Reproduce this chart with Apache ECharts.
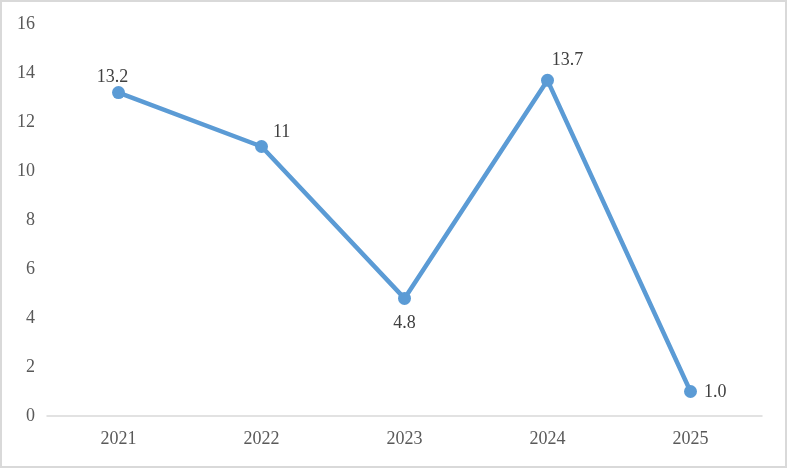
<!DOCTYPE html>
<html>
<head>
<meta charset="utf-8">
<script src="https://cdn.jsdelivr.net/npm/echarts@6/dist/echarts.min.js"></script>
<style>
html,body{margin:0;padding:0;background:#fff;}
#wrap{position:absolute;left:0;top:0;width:783px;height:464px;border:2px solid #d9d9d9;}
#c{width:783px;height:464px;}
</style>
</head>
<body>
<div id="wrap"><div id="c"></div></div>
<script>
var categories = ['2021', '2022', '2023', '2024', '2025'];
var values = [13.2, 11, 4.8, 13.7, 1.0];
var valueLabels = ['13.2', '11', '4.8', '13.7', '1.0'];
var labelPositions = ['top', 'right', 'bottom', 'top', 'right'];
var labelOffsets = [[-6, 5], [0, -14], [0, 4], [20, 0], [2, 1]];

var font = '"Liberation Serif", "Times New Roman", serif';
var chart = echarts.init(document.getElementById('c'));
chart.setOption({
  animation: false,
  grid: {left: 45, right: 23, top: 22, bottom: 50},
  xAxis: {
    type: 'category',
    data: categories,
    boundaryGap: true,
    axisLine: {lineStyle: {color: '#d9d9d9', width: 1.5}},
    axisTick: {show: false},
    axisLabel: {color: '#595959', fontFamily: font, fontSize: 18, margin: 14}
  },
  yAxis: {
    type: 'value',
    min: 0, max: 16, interval: 2,
    axisLine: {show: false},
    axisTick: {show: false},
    splitLine: {show: false},
    axisLabel: {color: '#595959', fontFamily: font, fontSize: 18, margin: 12}
  },
  series: [{
    type: 'line',
    data: values.map(function (v, i) {
      return {
        value: v,
        label: {position: labelPositions[i], offset: labelOffsets[i]}
      };
    }),
    symbol: 'circle',
    symbolSize: 13,
    lineStyle: {color: '#5b9bd5', width: 4.5},
    itemStyle: {color: '#5b9bd5'},
    label: {
      show: true,
      color: '#404040',
      fontFamily: font,
      fontSize: 18,
      distance: 5,
      formatter: function (p) { return valueLabels[p.dataIndex]; }
    }
  }]
});
</script>
</body>
</html>
